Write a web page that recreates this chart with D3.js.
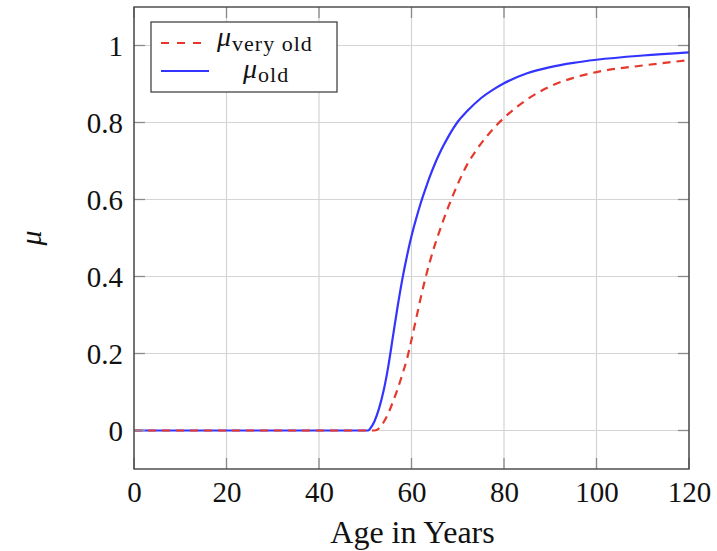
<!DOCTYPE html>
<html>
<head>
<meta charset="utf-8">
<script src="https://cdn.jsdelivr.net/npm/d3@7"></script>
<style>
  html, body { margin: 0; padding: 0; background: #fff; }
  svg { display: block; }
</style>
</head>
<body>
<svg id="chart" width="717" height="551"></svg>
<script>
// ---- data ----
const agesOld = [0, 50.6, 51, 52, 53, 54, 55, 56, 57, 58, 59, 60, 61, 62, 63, 64, 65, 66, 67, 68, 69, 70, 72, 75, 78, 80, 85, 90, 95, 100, 110, 120];
const muOld   = [0, 0, 0.004, 0.024, 0.058, 0.105, 0.168, 0.245, 0.322, 0.392, 0.452, 0.505, 0.55, 0.591, 0.627, 0.661, 0.691, 0.718, 0.742, 0.764, 0.784, 0.802, 0.829, 0.863, 0.888, 0.902, 0.928, 0.944, 0.955, 0.963, 0.974, 0.982];

const agesVeryOld = [0, 52, 53, 54, 55, 56, 57, 58, 59, 60, 61, 62, 63, 64, 65, 66, 67, 68, 69, 70, 72, 74, 76, 78, 80, 85, 90, 95, 100, 110, 120];
const muVeryOld   = [0, 0, 0.006, 0.022, 0.045, 0.075, 0.108, 0.145, 0.185, 0.236, 0.29, 0.345, 0.395, 0.44, 0.48, 0.516, 0.55, 0.582, 0.612, 0.64, 0.69, 0.728, 0.76, 0.788, 0.812, 0.86, 0.894, 0.916, 0.931, 0.948, 0.962];

const xTicks = [0, 20, 40, 60, 80, 100, 120];
const yTicks = [0, 0.2, 0.4, 0.6, 0.8, 1];
const xTitle = "Age in Years";
const yTitle = "μ";
const seriesNames = ["very old", "old"];

const FONT = "'Times New Roman', Tinos, 'Nimbus Roman', serif";

// ---- layout ----
const svg = d3.select("#chart");
const x = d3.scaleLinear().domain([0, 120]).range([134, 689]);
const y = d3.scaleLinear().domain([-0.1, 1.1]).range([469, 7]);
const [x0, x1] = x.range();
const [yb, yt] = y.range();

svg.append("defs").append("clipPath").attr("id", "clip")
  .append("rect").attr("x", x0).attr("y", yt).attr("width", x1 - x0).attr("height", yb - yt);

const grid = svg.append("g").attr("stroke", "#d4d4d4").attr("stroke-width", 1.2);
xTicks.forEach(t => grid.append("line").attr("x1", x(t)).attr("x2", x(t)).attr("y1", yt).attr("y2", yb));
yTicks.forEach(t => grid.append("line").attr("x1", x0).attr("x2", x1).attr("y1", y(t)).attr("y2", y(t)));

const lineGen = d3.line().x(d => x(d[0])).y(d => y(d[1])).curve(d3.curveMonotoneX);
const plot = svg.append("g").attr("clip-path", "url(#clip)");
plot.append("path")
  .datum(agesOld.map((a, i) => [a, muOld[i]]))
  .attr("d", lineGen).attr("fill", "none")
  .attr("stroke", "#3434ff").attr("stroke-width", 2.2);
plot.append("path")
  .datum(agesVeryOld.map((a, i) => [a, muVeryOld[i]]))
  .attr("d", lineGen).attr("fill", "none")
  .attr("stroke", "#e5392d").attr("stroke-width", 2.2)
  .attr("stroke-dasharray", "8,6");

const tl = 11;
const ticks = svg.append("g").attr("stroke", "#8a8a8a").attr("stroke-width", 1.3);
xTicks.forEach(t => {
  ticks.append("line").attr("x1", x(t)).attr("x2", x(t)).attr("y1", yb).attr("y2", yb - tl);
  ticks.append("line").attr("x1", x(t)).attr("x2", x(t)).attr("y1", yt).attr("y2", yt + tl);
});
yTicks.forEach(t => {
  ticks.append("line").attr("x1", x0).attr("x2", x0 + tl).attr("y1", y(t)).attr("y2", y(t));
  ticks.append("line").attr("x1", x1).attr("x2", x1 - tl).attr("y1", y(t)).attr("y2", y(t));
});

svg.append("rect").attr("x", x0).attr("y", yt).attr("width", x1 - x0).attr("height", yb - yt)
  .attr("fill", "none").attr("stroke", "#444").attr("stroke-width", 1.4);

const xAxis = svg.append("g").attr("transform", `translate(0,${yb})`)
  .call(d3.axisBottom(x).tickValues(xTicks).tickFormat(d3.format("d")).tickSize(0).tickPadding(0));
xAxis.select(".domain").remove();
xAxis.selectAll("text").attr("font-size", 29).attr("dy", null).attr("y", 33)
  .style("font-family", FONT).attr("fill", "#111");

const yAxis = svg.append("g").attr("transform", `translate(${x0},0)`)
  .call(d3.axisLeft(y).tickValues(yTicks).tickFormat(d => d === 0 ? "0" : d === 1 ? "1" : d3.format(".1f")(d)).tickSize(0).tickPadding(0));
yAxis.select(".domain").remove();
yAxis.selectAll("text").attr("font-size", 29).attr("x", -11).attr("dy", "0.34em")
  .style("font-family", FONT).attr("fill", "#111");

svg.append("text").attr("x", (x0 + x1) / 2 + 1).attr("y", 543).style("font-family", FONT)
  .attr("text-anchor", "middle").attr("font-size", 32).attr("fill", "#111").text(xTitle);
svg.append("text").attr("transform", "translate(41,238) rotate(-90)").style("font-family", FONT)
  .attr("text-anchor", "middle").attr("font-size", 30).attr("font-style", "italic").attr("fill", "#111").text(yTitle);

const lg = svg.append("g");
lg.append("rect").attr("x", 151).attr("y", 22).attr("width", 186).attr("height", 70)
  .attr("fill", "#fff").attr("stroke", "#444").attr("stroke-width", 1.3);
lg.append("line").attr("x1", 161).attr("x2", 207).attr("y1", 43).attr("y2", 43)
  .attr("stroke", "#e5392d").attr("stroke-width", 2.2).attr("stroke-dasharray", "8,8");
lg.append("line").attr("x1", 161).attr("x2", 209).attr("y1", 71).attr("y2", 71)
  .attr("stroke", "#3434ff").attr("stroke-width", 2.2);

const t1 = lg.append("text").attr("x", 217).attr("y", 46).attr("font-size", 28).style("font-family", FONT).attr("fill", "#111");
t1.append("tspan").attr("font-style", "italic").text("μ");
t1.append("tspan").attr("font-size", 22).attr("dx", 1).attr("dy", 5).attr("letter-spacing", 1).text(seriesNames[0]);

const t2 = lg.append("text").attr("x", 243).attr("y", 78).attr("font-size", 28).style("font-family", FONT).attr("fill", "#111");
t2.append("tspan").attr("font-style", "italic").text("μ");
t2.append("tspan").attr("font-size", 22).attr("dx", 1).attr("dy", 4).attr("letter-spacing", 1).text(seriesNames[1]);
</script>
</body>
</html>
